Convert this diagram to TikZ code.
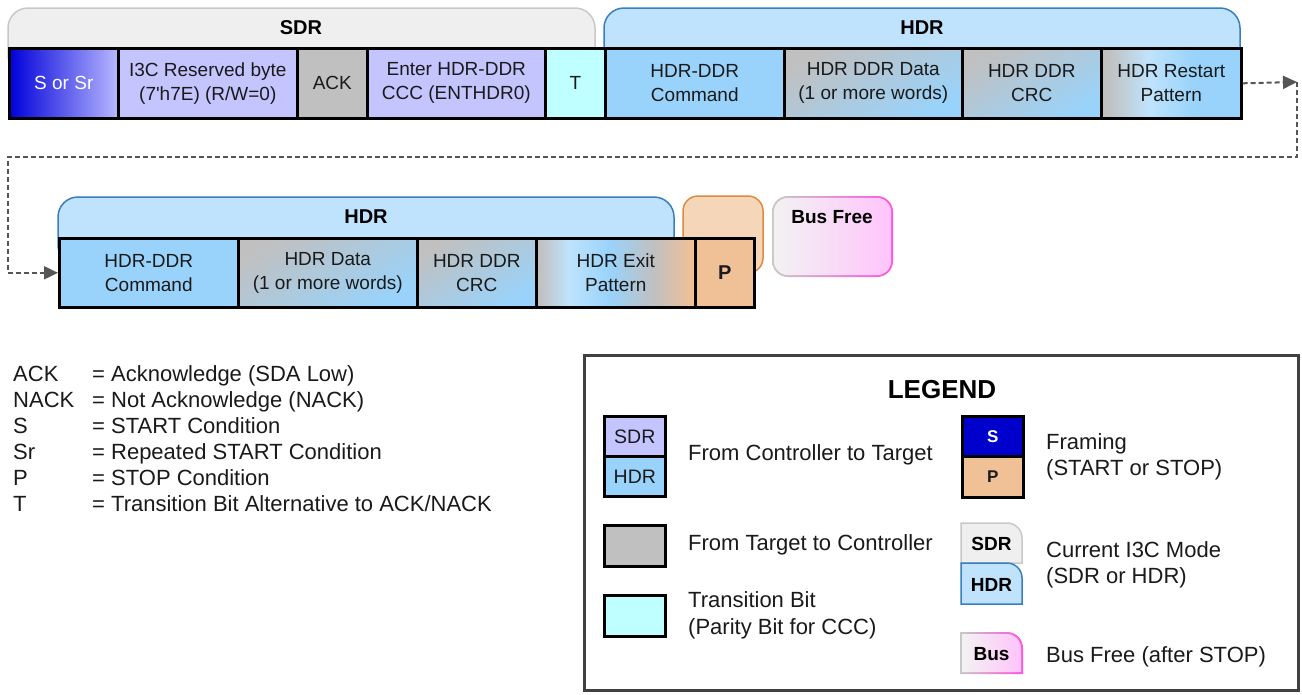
\documentclass[tikz,border=0pt]{standalone}
\usepackage{fontspec}
\setmainfont{Liberation Sans}
\usetikzlibrary{arrows.meta}

\definecolor{sdrfill}{HTML}{C4C4FF}
\definecolor{ackgray}{HTML}{C0C0C0}
\definecolor{tcyan}{HTML}{C0FFFF}
\definecolor{hdrblue}{HTML}{99D3FB}
\definecolor{hdrtab}{HTML}{BFE3FC}
\definecolor{hdredge}{HTML}{3A7EC0}
\definecolor{sdrtab}{HTML}{EFEFEF}
\definecolor{sdredge}{HTML}{C8C8C8}
\definecolor{stopfill}{HTML}{F0C096}
\definecolor{stoptab}{HTML}{F6D6B9}
\definecolor{stopedge}{HTML}{E08A40}
\definecolor{startblue}{HTML}{0000CC}
\definecolor{startdeep}{HTML}{0000DA}
\definecolor{startpale}{HTML}{B8B8FF}
\definecolor{busedge}{HTML}{FF55DD}
\definecolor{buspink}{HTML}{FFC4FB}
\definecolor{buslight}{HTML}{F2F2F2}
\definecolor{dashgray}{HTML}{555555}
\definecolor{legedge}{HTML}{404040}
\definecolor{ink}{HTML}{1A1A1A}

\pgfdeclarehorizontalshading{restartshade}{100bp}{%
  color(0bp)=(ackgray); color(27bp)=(ackgray); color(42bp)=(hdrtab);
  color(58bp)=(hdrblue); color(100bp)=(hdrblue)}
\pgfdeclarehorizontalshading{exitshade}{100bp}{%
  color(0bp)=(ackgray); color(26bp)=(ackgray); color(35bp)=(hdrtab);
  color(48bp)=(hdrblue); color(62bp)=(ackgray); color(74bp)=(stopfill);
  color(100bp)=(stopfill)}

\newcommand\cellfont{\fontsize{19}{24}\selectfont}
\newcommand\headfont{\fontsize{20}{24}\selectfont\bfseries}
\newcommand\notefont{\fontsize{22}{27}\selectfont}

\tikzset{
  cell/.style={draw=black, line width=2.6pt, inner sep=0pt, anchor=north west,
    align=center, text=ink, font=\cellfont},
  rowa/.style={cell, minimum height=70pt},
  rowb/.style={cell, minimum height=69pt},
  mixcell/.style={top color=ackgray, bottom color=hdrblue, shading angle=30},
  sdrtabstyle/.style={fill=sdrtab, draw=sdredge, line width=1.5pt},
  hdrtabstyle/.style={fill=hdrtab, draw=hdredge, line width=1.5pt},
  headlabel/.style={font=\headfont, text=black, inner sep=0pt},
  flow/.style={draw=dashgray, line width=2pt, dash pattern=on 5pt off 3pt},
  tip/.style={-{Triangle[length=14pt,width=13pt]}},
  note/.style={font=\notefont, text=ink, inner sep=0pt, anchor=base west},
  swatch/.style={draw=black, line width=2.6pt, inner sep=0pt, anchor=north west,
    minimum width=61pt, text=ink},
}

\begin{document}
\begin{tikzpicture}[x=1pt,y=-1pt]
\useasboundingbox (0,0) rectangle (1302,694);
\fill[white] (0,0) rectangle (1302,694);

% ---------- first frame: mode tabs ----------
\draw[sdrtabstyle, rounded corners=20pt] (8,8) rectangle (595,75);
\draw[hdrtabstyle, rounded corners=20pt] (604,8) rectangle (1240,75);
\node[headlabel] (sdrhead) at (301,28) {SDR};
\node[headlabel] (hdrhead) at (922,28) {HDR};

% ---------- first frame: fields ----------
\node[rowa, minimum width=109pt, left color=startdeep, right color=startpale,
  text=white] (s) at (8,47) {S or Sr};
\node[rowa, minimum width=179pt, fill=sdrfill] (resv) at (117,47)
  {I3C Reserved byte\\(7\textquotesingle h7E) (R/W=0)};
\node[rowa, minimum width=70pt, fill=ackgray] (ack) at (296,47) {ACK};
\node[rowa, minimum width=178pt, fill=sdrfill] (enter) at (366,47)
  {Enter HDR-DDR\\CCC (ENTHDR0)};
\node[rowa, minimum width=60pt, fill=tcyan] (t) at (544,47) {T};
\node[rowa, minimum width=179pt, fill=hdrblue] (cmd) at (604,47)
  {HDR-DDR\\Command};
\node[rowa, minimum width=178pt, mixcell] (data) at (783,47)
  {HDR DDR Data\\(1 or more words)};
\node[rowa, minimum width=139pt, mixcell] (crc) at (961,47)
  {HDR DDR\\CRC};
\node[rowa, minimum width=140pt, shading=restartshade] (restart) at (1100,47)
  {HDR Restart\\Pattern};

% ---------- second frame: mode tabs ----------
\draw[hdrtabstyle, rounded corners=20pt] (58,197) rectangle (674,265);
\node[headlabel] (hdrhead2) at (366,217) {HDR};
\draw[fill=stoptab, draw=stopedge, line width=1.5pt, rounded corners=15pt]
  (683,196) rectangle (763,273);
\shade[left color=sdredge, right color=busedge, rounded corners=16pt]
  (772,196) rectangle (893,277);
\shade[left color=buslight, right color=buspink, rounded corners=14.5pt]
  (773.8,197.8) rectangle (891.2,275.2);
\node[headlabel, font=\fontsize{19}{23}\selectfont\bfseries] (busfree) at (832,217) {Bus Free};

% ---------- second frame: fields ----------
\node[rowb, minimum width=179pt, fill=hdrblue] (cmd2) at (58,237)
  {HDR-DDR\\Command};
\node[rowb, minimum width=179pt, mixcell] (data2) at (237,237)
  {HDR Data\\(1 or more words)};
\node[rowb, minimum width=119pt, mixcell] (crc2) at (416,237)
  {HDR DDR\\CRC};
\node[rowb, minimum width=159pt, shading=exitshade] (exit) at (535,237)
  {HDR Exit\\Pattern};
\node[rowb, minimum width=59pt, fill=stopfill,
  font=\fontsize{20}{24}\selectfont\bfseries] (p) at (694,237) {P};

% ---------- continuation between the frames ----------
\coordinate (turn) at (1297,82);
\coordinate (rightdown) at (1297,157);
\coordinate (leftdown) at (8,157);
\draw[flow, tip] (restart.east) -- (turn);
\draw[flow, tip] (turn) -- (rightdown) -- (leftdown) |- (cmd2.west);

% ---------- abbreviations ----------
\node[note] (ab1) at (13,381) {ACK};
\node[note] (ab2) at (13,407) {NACK};
\node[note] (ab3) at (13,433) {S};
\node[note] (ab4) at (13,459) {Sr};
\node[note] (ab5) at (13,485) {P};
\node[note] (ab6) at (13,511) {T};
\node[note] (de1) at (92,381) {= Acknowledge (SDA Low)};
\node[note] (de2) at (92,407) {= Not Acknowledge (NACK)};
\node[note] (de3) at (92,433) {= START Condition};
\node[note] (de4) at (92,459) {= Repeated START Condition};
\node[note] (de5) at (92,485) {= STOP Condition};
\node[note] (de6) at (92,511) {= Transition Bit Alternative to ACK/NACK};

% ---------- legend ----------
\draw[draw=legedge, line width=3pt] (584,355) rectangle (1298,690);
\node[font=\fontsize{26}{30}\selectfont\bfseries, inner sep=0pt, anchor=base]
  (legtitle) at (942,398) {LEGEND};

\node[swatch, minimum height=40pt, fill=sdrfill, font=\fontsize{19.5}{23}\selectfont]
  (lsdr) at (603,415) {SDR};
\node[swatch, minimum height=40pt, fill=hdrblue, font=\fontsize{19.5}{23}\selectfont]
  (lhdr) at (603,455) {HDR};
\node[note] (lt1) at (688,460) {From Controller to Target};

\node[swatch, minimum height=41pt, fill=ackgray] (lgray) at (603,524) {};
\node[note] (lt2) at (688,550) {From Target to Controller};

\node[swatch, minimum height=41pt, fill=tcyan] (lcyan) at (603,594) {};
\node[note] (lt3) at (688,607) {Transition Bit};
\node[note] (lt4) at (688,634) {(Parity Bit for CCC)};

\node[swatch, minimum height=40pt, fill=startblue, text=white,
  font=\fontsize{17}{20}\selectfont\bfseries] (ls) at (961,415) {S};
\node[swatch, minimum height=41pt, fill=stopfill,
  font=\fontsize{17}{20}\selectfont\bfseries] (lp) at (961,455) {P};
\node[note] (lt5) at (1046,449) {Framing};
\node[note] (lt6) at (1046,475) {(START or STOP)};

\draw[sdrtabstyle] (961,563) -- (961,523) [rounded corners=15pt] -- (1022,523)
  [sharp corners] -- (1022,563) -- cycle;
\draw[hdrtabstyle] (961,604) -- (961,563) [rounded corners=15pt] -- (1022,563)
  [sharp corners] -- (1022,604) -- cycle;
\node[headlabel, font=\fontsize{19}{23}\selectfont\bfseries] (ltsdr) at (991.5,544) {SDR};
\node[headlabel, font=\fontsize{19}{23}\selectfont\bfseries] (lthdr) at (991.5,585) {HDR};
\node[note] (lt7) at (1046,557) {Current I3C Mode};
\node[note] (lt8) at (1046,583) {(SDR or HDR)};

\shade[left color=sdredge, right color=busedge]
  (960,674) -- (960,632) [rounded corners=16pt] -- (1023,632)
  [sharp corners] -- (1023,674) -- cycle;
\shade[left color=buslight, right color=buspink]
  (962,672) -- (962,634) [rounded corners=14pt] -- (1021,634)
  [sharp corners] -- (1021,672) -- cycle;
\node[headlabel, font=\fontsize{19}{23}\selectfont\bfseries] (ltbus) at (991.5,654) {Bus};
\node[note] (lt9) at (1046,662) {Bus Free (after STOP)};

\end{tikzpicture}
\end{document}
